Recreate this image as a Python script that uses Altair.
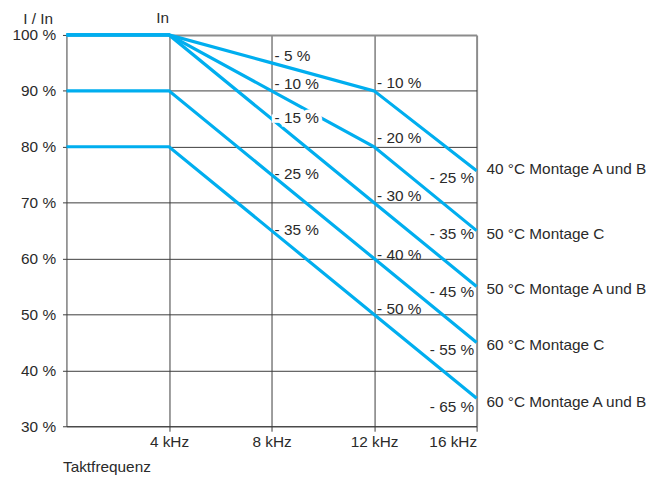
import altair as alt
import pandas as pd

# ---------------- data ----------------
freq_khz = [0, 4, 8, 12, 16]

series_names = [
    "40 °C Montage A und B",
    "50 °C Montage C",
    "50 °C Montage A und B",
    "60 °C Montage C",
    "60 °C Montage A und B",
]
current_40_ab = [100, 100, 95, 90, 75.7]
current_50_c = [100, 100, 90, 80, 65]
current_50_ab = [100, 100, 85, 70, 55]
current_60_c = [90, 90, 75, 60, 45]
current_60_ab = [80, 80, 65, 50, 35]

# vertical position (%) of each series name at the right end
series_label_y = [76.1, 64.4, 54.6, 44.5, 34.4]

# derating annotations at 8 kHz, 12 kHz and 16 kHz
ann_8_text = ["- 5 %", "- 10 %", "- 15 %", "- 25 %", "- 35 %"]
ann_8_y = [96.2, 91.3, 85.1, 75.1, 65.1]
ann_12_text = ["- 10 %", "- 20 %", "- 30 %", "- 40 %", "- 50 %"]
ann_12_y = [91.4, 81.5, 71.1, 60.6, 50.9]
ann_16_text = ["- 25 %", "- 35 %", "- 45 %", "- 55 %", "- 65 %"]
ann_16_y = [74.4, 64.4, 54.1, 43.6, 33.5]
masked_labels = ["- 15 %"]  # label drawn over a line with a white box

x_ticks = [4, 8, 12, 16]
y_ticks = [30, 40, 50, 60, 70, 80, 90, 100]
header_text = "In"
header_x = 4
header_y = 100

# ---------------- tables ----------------
all_series = [current_40_ab, current_50_c, current_50_ab, current_60_c, current_60_ab]
rows = []
for name, vals in zip(series_names, all_series):
    for f, v in zip(freq_khz, vals):
        rows.append({"series": name, "freq": f, "pct": v})
lines_df = pd.DataFrame(rows)

names_df = pd.DataFrame({"series": series_names, "freq": [freq_khz[-1]] * 5, "pct": series_label_y})
a8 = pd.DataFrame({"label": ann_8_text, "freq": [8] * 5, "pct": ann_8_y})
a12 = pd.DataFrame({"label": ann_12_text, "freq": [12] * 5, "pct": ann_12_y})
a16 = pd.DataFrame({"label": ann_16_text, "freq": [16] * 5, "pct": ann_16_y})
masked_df = a8[a8["label"].isin(masked_labels)]

FONT = "Liberation Sans"
TXT = "#2a2a2a"
BLUE = "#00aeef"
FS = 15.5

xscale = alt.Scale(domain=[0, 16], nice=False, zero=False)
yscale = alt.Scale(domain=[30, 100], nice=False, zero=False)

x_enc = alt.X(
    "freq:Q",
    scale=xscale,
    axis=alt.Axis(
        values=x_ticks,
        labelExpr="datum.value + ' kHz'",
        tickSize=5,
        labelPadding=3,
        labelFlush=True,
        labelOverlap=False,
        title="Taktfrequenz",
        titleX=-4,
        titleY=46,
        titleAlign="left",
        titleAnchor="start",
        titleBaseline="alphabetic",
        gridColor={"condition": {"test": "datum.value === 16", "value": "#8c8c8c"}, "value": "#3c3c3c"},
        gridWidth={"condition": {"test": "datum.value === 16", "value": 2}, "value": 1},
    ),
)
y_enc = alt.Y(
    "pct:Q",
    scale=yscale,
    axis=alt.Axis(
        values=y_ticks,
        labelExpr="datum.value + ' %'",
        tickSize=4,
        labelPadding=7,
        labelOverlap=False,
        title="I / In",
        titleAngle=0,
        titleX=-14,
        titleY=-12,
        titleAlign="right",
        titleBaseline="alphabetic",
        gridColor={"condition": {"test": "datum.value === 100", "value": "#8c8c8c"}, "value": "#3c3c3c"},
        gridWidth={"condition": {"test": "datum.value === 100", "value": 2}, "value": 1},
    ),
)

lines = alt.Chart(lines_df).mark_line(color=BLUE, strokeWidth=3.2, strokeCap="butt").encode(
    x=x_enc, y=y_enc, detail="series:N", order="freq:Q"
)

names = alt.Chart(names_df).mark_text(
    align="left", baseline="middle", dx=10, font=FONT, fontSize=FS, color=TXT
).encode(x="freq:Q", y="pct:Q", text="series:N")

mask = alt.Chart(masked_df).mark_text(
    align="left", baseline="middle", dx=3, font=FONT, fontSize=FS,
    color="white", stroke="white", strokeWidth=7
).encode(x="freq:Q", y="pct:Q", text="label:N")

t8 = alt.Chart(a8).mark_text(
    align="left", baseline="middle", dx=3, font=FONT, fontSize=FS, color=TXT
).encode(x="freq:Q", y="pct:Q", text="label:N")
t12 = alt.Chart(a12).mark_text(
    align="left", baseline="middle", dx=3, font=FONT, fontSize=FS, color=TXT
).encode(x="freq:Q", y="pct:Q", text="label:N")
t16 = alt.Chart(a16).mark_text(
    align="right", baseline="middle", dx=-2.5, font=FONT, fontSize=FS, color=TXT
).encode(x="freq:Q", y="pct:Q", text="label:N")

header = alt.Chart(pd.DataFrame({"freq": [header_x], "pct": [header_y], "label": [header_text]})).mark_text(
    align="right", baseline="alphabetic", dy=-12, font=FONT, fontSize=FS, color=TXT
).encode(x="freq:Q", y="pct:Q", text="label:N")

chart = (
    alt.layer(lines, names, mask, t8, t12, t16, header)
    .properties(
        width=414,
        height=395,
        autosize=alt.AutoSizeParams(type="none"),
        padding={"left": 59, "top": 25, "right": 174, "bottom": 49},
    )
    .configure_view(strokeWidth=0)
    .configure_axis(
        labelFont=FONT,
        labelFontSize=FS,
        labelColor=TXT,
        titleFont=FONT,
        titleFontSize=FS,
        titleFontWeight="normal",
        titleColor=TXT,
        domainColor="#3c3c3c",
        domainWidth=1,
        tickColor="#3c3c3c",
        tickWidth=1,
        grid=True,
    )
)

chart.save("out.html", embed_options={"renderer": "svg", "actions": False})
